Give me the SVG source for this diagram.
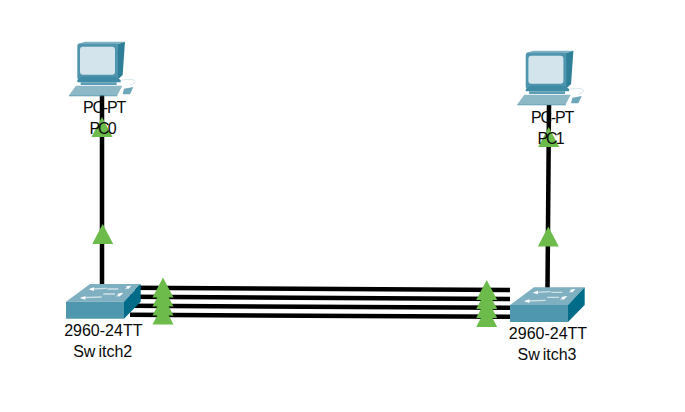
<svg xmlns="http://www.w3.org/2000/svg" width="685" height="412" viewBox="0 0 685 412">
<style>
text{font-family:"Liberation Sans",Arial,sans-serif;font-size:16px;fill:#0a0a0a;text-anchor:middle}
.pcl{letter-spacing:-1.2px}
.pcn{letter-spacing:-2px}
.link{stroke:#000;stroke-width:4.5;fill:none}
.tri{fill:#6cbb4b}
</style>
<defs>
<g id="pc">
<path d="M52 42L75 35H195L172 43Z" fill="#7fb2c4"/>
<path d="M172 43L195 35L188 135L172 150Z" fill="#2f7f99"/>
<rect x="52" y="41" width="122" height="108" rx="6" fill="#4f95ad"/>
<rect x="60" y="50" width="105" height="84" rx="9" fill="#d3e4ec"/>
<path d="M66 140H168L182 150V157H52V150Z" fill="#3f8ba5"/>
<path d="M62 157H170V165H62Z" fill="#5a9db5"/>
<path d="M48 167H187L172 196H27Z" fill="#8db8c6"/>
<path d="M27 196H172V199H27Z" fill="#4f93aa"/>
<path d="M192 176L220 171L210 193H188Z" fill="#6fa7ba"/>
<path d="M183 151Q222 143 226 155Q224 163 210 166" fill="none" stroke="#cfe0e6" stroke-width="2.5"/>
</g>
<g id="sw">
<path d="M48 245L120 192H272L222 245Z" fill="#7fb0c1"/>
<path d="M48 245H222V296H48Z" fill="#4f97ae"/>
<path d="M222 245L272 192V245L222 296Z" fill="#006c8a"/>
<path d="M122 207L170 205M172 207H205M226 207L240 199M95 233L155 231M160 222H195M200 229L216 220" stroke="#cfe0e7" stroke-width="4" fill="none"/>
<path d="M116 208L132 202V213ZM244 197L228 199L234 208ZM90 234L106 228V239ZM220 218L202 221L208 230Z" fill="#fff"/>
</g>
<path id="t" d="M0 0L10.5 20H-10.5Z"/>
</defs>
<g id="connectors">
<path class="link" d="M102 95V285"/>
<path class="link" d="M549 105L547.5 288"/>
<path class="link" d="M130 287.7L510 290M130 296.7L510 298.9M130 305.7L510 307.8M130 314.7L510 316.8"/>
<g class="tri">
<use href="#t" x="102" y="117"/>
<use href="#t" x="102.7" y="224"/>
<use href="#t" x="548.7" y="127"/>
<use href="#t" x="548.3" y="226.5"/>
<use href="#t" x="163" y="277.5"/>
<use href="#t" x="163" y="286.5"/>
<use href="#t" x="163" y="295.5"/>
<use href="#t" x="163" y="304.5"/>
<use href="#t" x="486.7" y="280"/>
<use href="#t" x="486.7" y="289"/>
<use href="#t" x="486.7" y="298"/>
<use href="#t" x="486.7" y="307"/>
</g>
</g>
<g id="PC0">
<use href="#pc" transform="translate(60 30) scale(.3333)"/>
<text class="pcl" x="104" y="113">PC-PT</text>
<text class="pcn" x="102" y="134">PC0</text>
</g>
<g id="PC1">
<use href="#pc" transform="translate(508.4 39) scale(.3333)"/>
<text class="pcl" x="552" y="123">PC-PT</text>
<text class="pcn" x="550" y="144">PC1</text>
</g>
<g id="Switch2">
<use href="#sw" transform="translate(50 220) scale(.3333)"/>
<text x="103.3" y="336">2960-24TT</text>
<text x="102.7" y="357">Sw<tspan dx="3">itch2</tspan></text>
</g>
<g id="Switch3">
<use href="#sw" transform="translate(494 223.3) scale(.3333)"/>
<text x="548" y="339">2960-24TT</text>
<text x="547" y="360">Sw<tspan dx="3">itch3</tspan></text>
</g>
</svg>
